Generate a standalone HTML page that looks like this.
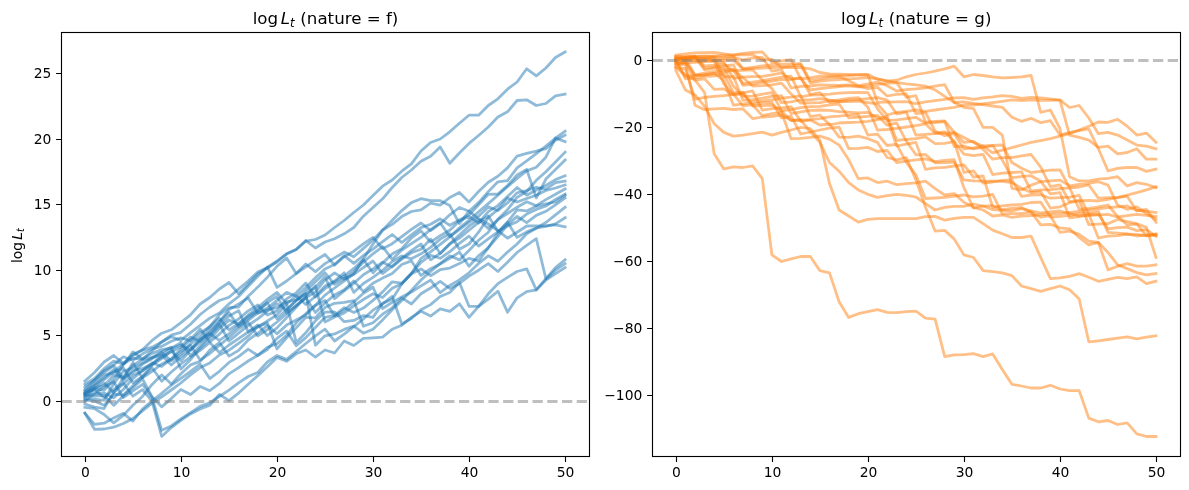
<!DOCTYPE html>
<html><head><meta charset="utf-8"><title>log L_t</title>
<style>
html,body{margin:0;padding:0;background:#fff;}
svg{display:block;}
text{font-family:"DejaVu Sans","Liberation Sans",sans-serif;fill:#000;}
.tk{font-size:13.89px;}
.tt{font-size:16.67px;}
.fr{fill:none;stroke:#000;stroke-width:1.11;}
.tick{stroke:#000;stroke-width:1.11;}
.lf path{fill:none;stroke:#1f77b4;stroke-opacity:.5;stroke-width:2.78;stroke-linejoin:round;stroke-linecap:square;}
.rt path{fill:none;stroke:#ff7f0e;stroke-opacity:.5;stroke-width:2.78;stroke-linejoin:round;stroke-linecap:square;}
.lf path.zl,.rt path.zl{stroke:#808080;stroke-opacity:.5;stroke-width:2.78;stroke-dasharray:10.28 4.44;fill:none;stroke-linecap:butt;}
</style></head><body>
<svg width="1189" height="490" viewBox="0 0 1189 490">
<rect width="1189" height="490" fill="#fff"/>
<defs>
<clipPath id="cl"><rect x="61.5" y="32.5" width="528" height="424"/></clipPath>
<clipPath id="cr"><rect x="652.5" y="32.5" width="528" height="424"/></clipPath>
</defs>
<!-- left panel -->
<g class="lf" clip-path="url(#cl)">
<path d="M84.9 393.5 L94.5 386.4 L104.1 379.7 L113.7 371.9 L123.3 364.1 L132.9 358.1 L142.5 359.4 L152.1 350.8 L161.7 342.0 L171.3 335.1 L180.9 332.3 L190.5 324.3 L200.2 314.5 L209.8 307.0 L219.4 300.5 L229.0 297.3 L238.6 289.0 L248.2 281.0 L257.8 272.0 L267.4 267.5 L277.0 261.0 L286.6 253.8 L296.2 249.5 L305.8 241.2 L315.4 239.5 L325.0 235.0 L334.6 227.5 L344.2 220.5 L353.8 212.5 L363.4 205.0 L373.0 195.5 L382.6 186.2 L392.2 180.0 L401.8 171.2 L411.4 163.8 L421.0 151.0 L430.6 142.5 L440.2 139.0 L449.8 131.8 L459.4 123.2 L469.0 115.2 L478.6 115.2 L488.3 105.5 L497.9 98.8 L507.5 89.2 L517.1 82.0 L526.7 68.8 L536.3 75.8 L545.9 68.0 L555.5 57.5 L565.1 52.0"/>
<path d="M84.9 381.1 L94.5 372.5 L104.1 362.0 L113.7 355.5 L123.3 363.4 L132.9 355.8 L142.5 349.7 L152.1 340.4 L161.7 333.2 L171.3 329.8 L180.9 322.6 L190.5 314.8 L200.2 304.0 L209.8 297.5 L219.4 289.0 L229.0 282.5 L238.6 293.8 L248.2 284.0 L257.8 274.0 L267.4 268.0 L277.0 262.0 L286.6 254.0 L296.2 249.5 L305.8 240.5 L315.4 248.0 L325.0 242.0 L334.6 238.8 L344.2 233.8 L353.8 227.5 L363.4 216.2 L373.0 207.5 L382.6 198.8 L392.2 187.5 L401.8 177.5 L411.4 170.0 L421.0 161.2 L430.6 156.2 L440.2 147.0 L449.8 163.2 L459.4 153.0 L469.0 143.4 L478.6 135.5 L488.3 127.0 L497.9 117.0 L507.5 111.8 L517.1 100.5 L526.7 99.8 L536.3 105.5 L545.9 103.5 L555.5 95.8 L565.1 94.2"/>
<path d="M84.9 397.5 L94.5 389.6 L104.1 397.5 L113.7 389.6 L123.3 383.0 L132.9 396.2 L142.5 389.6 L152.1 401.4 L161.7 436.4 L171.3 427.6 L180.9 420.4 L190.5 413.9 L200.2 408.9 L209.8 405.3 L219.4 394.4 L229.0 400.6 L238.6 393.1 L248.2 384.3 L257.8 375.6 L267.4 366.8 L277.0 357.4 L286.6 361.3 L296.2 353.8 L305.8 350.0 L315.4 357.1 L325.0 350.0 L334.6 353.0 L344.2 341.0 L353.8 345.5 L363.4 338.4 L373.0 337.8 L382.6 337.1 L392.2 329.2 L401.8 325.3 L411.4 317.4 L421.0 311.3 L430.6 316.1 L440.2 308.8 L449.8 311.3 L459.4 303.8 L469.0 317.4 L478.6 306.3 L488.3 299.1 L497.9 291.2 L507.5 312.2 L517.1 297.8 L526.7 291.7 L536.3 289.9 L545.9 280.0 L555.5 273.7 L565.1 267.6"/>
<path d="M84.9 401.4 L94.5 393.5 L104.1 387.0 L113.7 381.7 L123.3 397.5 L132.9 390.9 L142.5 384.3 L152.1 397.5 L161.7 430.3 L171.3 425.9 L180.9 418.8 L190.5 412.7 L200.2 406.4 L209.8 402.7 L219.4 396.5 L229.0 390.2 L238.6 382.8 L248.2 376.5 L257.8 372.5 L267.4 362.0 L277.0 355.5 L286.6 359.4 L296.2 351.5 L305.8 343.5 L315.4 335.9 L325.0 329.2 L334.6 341.0 L344.2 334.2 L353.8 326.6 L363.4 318.9 L373.0 310.2 L382.6 303.8 L392.2 296.4 L401.8 324.0 L411.4 318.5 L421.0 309.8 L430.6 304.6 L440.2 296.5 L449.8 292.5 L459.4 282.5 L469.0 306.3 L478.6 306.3 L488.3 293.8 L497.9 283.7 L507.5 277.4 L517.1 271.5 L526.7 268.9 L536.3 289.9 L545.9 278.7 L555.5 267.6 L565.1 259.7"/>
<path d="M84.9 413.2 L94.5 429.3 L104.1 429.0 L113.7 427.2 L123.3 423.5 L132.9 418.5 L142.5 410.8 L152.1 403.2 L161.7 396.9 L171.3 390.0 L180.9 383.0 L190.5 374.9 L200.2 367.6 L209.8 362.9 L219.4 355.0 L229.0 350.2 L238.6 343.3 L248.2 336.2 L257.8 326.6 L267.4 322.9 L277.0 348.9 L286.6 337.8 L296.2 327.9 L305.8 317.4 L315.4 317.8 L325.0 307.6 L334.6 303.3 L344.2 302.3 L353.8 300.6 L363.4 326.2 L373.0 322.7 L382.6 314.2 L392.2 307.8 L401.8 297.9 L411.4 304.0 L421.0 293.8 L430.6 288.0 L440.2 281.3 L449.8 288.5 L459.4 283.4 L469.0 276.1 L478.6 270.2 L488.3 263.6 L497.9 271.5 L507.5 262.3 L517.1 252.5 L526.7 245.3 L536.3 238.7 L545.9 278.7 L555.5 270.2 L565.1 263.6"/>
<path d="M84.9 413.2 L94.5 424.4 L104.1 423.2 L113.7 417.9 L123.3 413.3 L132.9 421.1 L142.5 409.0 L152.1 400.8 L161.7 393.3 L171.3 385.2 L180.9 378.4 L190.5 371.5 L200.2 364.2 L209.8 378.6 L219.4 371.3 L229.0 362.4 L238.6 356.6 L248.2 349.1 L257.8 355.5 L267.4 349.5 L277.0 338.4 L286.6 331.1 L296.2 345.8 L305.8 337.6 L315.4 327.5 L325.0 317.4 L334.6 315.3 L344.2 307.7 L353.8 312.5 L363.4 308.1 L373.0 300.4 L382.6 291.9 L392.2 281.8 L401.8 283.2 L411.4 273.6 L421.0 262.3 L430.6 255.2 L440.2 258.3 L449.8 251.7 L459.4 243.4 L469.0 236.1 L478.6 246.1 L488.3 238.9 L497.9 231.9 L507.5 222.2 L517.1 237.4 L526.7 231.9 L536.3 228.0 L545.9 226.5 L555.5 223.8 L565.1 217.7"/>
<path d="M84.9 396.2 L94.5 396.1 L104.1 395.5 L113.7 405.4 L123.3 395.9 L132.9 387.8 L142.5 379.0 L152.1 396.8 L161.7 406.9 L171.3 398.6 L180.9 389.6 L190.5 394.6 L200.2 386.4 L209.8 390.7 L219.4 383.4 L229.0 373.8 L238.6 367.6 L248.2 361.0 L257.8 355.3 L267.4 347.2 L277.0 343.7 L286.6 335.4 L296.2 322.8 L305.8 313.8 L315.4 305.1 L325.0 295.1 L334.6 288.0 L344.2 281.0 L353.8 273.9 L363.4 258.9 L373.0 244.0 L382.6 230.2 L392.2 220.3 L401.8 210.6 L411.4 202.6 L421.0 198.7 L430.6 200.7 L440.2 200.7 L449.8 205.6 L459.4 223.6 L469.0 211.2 L478.6 218.8 L488.3 224.0 L497.9 230.6 L507.5 238.2 L517.1 232.2 L526.7 226.0 L536.3 225.8 L545.9 225.6 L555.5 224.9 L565.1 226.9"/>
<path d="M84.9 384.3 L94.5 378.4 L104.1 368.6 L113.7 361.1 L123.3 364.0 L132.9 354.2 L142.5 350.1 L152.1 347.2 L161.7 342.1 L171.3 336.8 L180.9 340.4 L190.5 332.7 L200.2 325.3 L209.8 318.1 L219.4 312.9 L229.0 303.8 L238.6 296.5 L248.2 286.2 L257.8 276.4 L267.4 266.9 L277.0 287.3 L286.6 281.0 L296.2 273.7 L305.8 266.9 L315.4 260.5 L325.0 254.5 L334.6 265.0 L344.2 256.7 L353.8 251.2 L363.4 243.8 L373.0 237.4 L382.6 248.7 L392.2 243.7 L401.8 236.6 L411.4 229.4 L421.0 223.0 L430.6 230.6 L440.2 223.7 L449.8 214.8 L459.4 207.5 L469.0 211.2 L478.6 202.6 L488.3 191.6 L497.9 181.8 L507.5 180.7 L517.1 167.9 L526.7 160.8 L536.3 153.7 L545.9 146.0 L555.5 138.2 L565.1 131.1"/>
<path d="M84.9 387.0 L94.5 380.2 L104.1 370.6 L113.7 364.9 L123.3 356.8 L132.9 360.3 L142.5 353.8 L152.1 348.9 L161.7 346.4 L171.3 341.2 L180.9 337.8 L190.5 340.9 L200.2 332.8 L209.8 326.9 L219.4 314.9 L229.0 307.6 L238.6 307.1 L248.2 296.2 L257.8 287.1 L267.4 277.2 L277.0 266.3 L286.6 257.9 L296.2 273.4 L305.8 264.0 L315.4 271.7 L325.0 263.6 L334.6 257.9 L344.2 252.1 L353.8 256.8 L363.4 248.4 L373.0 240.0 L382.6 230.0 L392.2 224.4 L401.8 216.6 L411.4 211.5 L421.0 209.8 L430.6 203.2 L440.2 205.1 L449.8 197.5 L459.4 192.5 L469.0 202.0 L478.6 191.5 L488.3 182.3 L497.9 176.3 L507.5 167.9 L517.1 156.1 L526.7 153.4 L536.3 151.2 L545.9 148.7 L555.5 140.3 L565.1 135.1"/>
<path d="M84.9 389.6 L94.5 380.4 L104.1 372.5 L113.7 365.6 L123.3 378.3 L132.9 372.5 L142.5 364.1 L152.1 358.7 L161.7 352.3 L171.3 360.8 L180.9 354.2 L190.5 343.9 L200.2 336.6 L209.8 326.3 L219.4 318.4 L229.0 329.9 L238.6 323.6 L248.2 315.2 L257.8 307.6 L267.4 299.3 L277.0 292.5 L286.6 303.4 L296.2 342.4 L305.8 332.7 L315.4 320.8 L325.0 312.2 L334.6 312.0 L344.2 321.7 L353.8 320.4 L363.4 315.6 L373.0 317.4 L382.6 303.4 L392.2 299.3 L401.8 283.9 L411.4 273.6 L421.0 258.4 L430.6 251.9 L440.2 244.3 L449.8 236.8 L459.4 227.9 L469.0 220.3 L478.6 211.9 L488.3 203.6 L497.9 195.2 L507.5 186.8 L517.1 178.4 L526.7 170.9 L536.3 167.3 L545.9 157.2 L555.5 138.0 L565.1 141.6"/>
<path d="M84.9 390.9 L94.5 385.2 L104.1 377.8 L113.7 369.5 L123.3 380.2 L132.9 370.3 L142.5 368.6 L152.1 363.9 L161.7 357.1 L171.3 351.8 L180.9 347.0 L190.5 336.9 L200.2 341.4 L209.8 329.9 L219.4 321.9 L229.0 309.6 L238.6 304.0 L248.2 297.9 L257.8 313.3 L267.4 309.9 L277.0 307.6 L286.6 301.9 L296.2 300.0 L305.8 293.6 L315.4 345.2 L325.0 335.8 L334.6 333.9 L344.2 329.4 L353.8 326.1 L363.4 333.2 L373.0 329.2 L382.6 319.9 L392.2 309.8 L401.8 300.6 L411.4 290.5 L421.0 280.0 L430.6 271.5 L440.2 263.5 L449.8 255.8 L459.4 259.9 L469.0 250.5 L478.6 240.2 L488.3 232.2 L497.9 219.3 L507.5 209.7 L517.1 197.4 L526.7 191.5 L536.3 180.3 L545.9 171.8 L555.5 162.0 L565.1 152.1"/>
<path d="M84.9 392.2 L94.5 383.5 L104.1 375.2 L113.7 372.6 L123.3 368.0 L132.9 382.8 L142.5 376.5 L152.1 365.1 L161.7 358.7 L171.3 351.0 L180.9 360.7 L190.5 350.3 L200.2 339.4 L209.8 332.7 L219.4 322.2 L229.0 312.6 L238.6 326.6 L248.2 320.3 L257.8 312.9 L267.4 308.0 L277.0 300.4 L286.6 292.4 L296.2 296.3 L305.8 287.5 L315.4 277.7 L325.0 268.9 L334.6 264.6 L344.2 255.6 L353.8 263.4 L363.4 255.5 L373.0 249.2 L382.6 241.7 L392.2 234.5 L401.8 242.5 L411.4 234.8 L421.0 227.6 L430.6 224.2 L440.2 218.8 L449.8 225.3 L459.4 219.9 L469.0 215.1 L478.6 204.8 L488.3 194.3 L497.9 194.0 L507.5 185.5 L517.1 174.9 L526.7 169.4 L536.3 197.9 L545.9 179.1 L555.5 169.6 L565.1 160.0"/>
<path d="M84.9 392.9 L94.5 388.4 L104.1 383.0 L113.7 392.6 L123.3 384.0 L132.9 375.2 L142.5 370.9 L152.1 362.7 L161.7 366.5 L171.3 358.9 L180.9 348.9 L190.5 339.7 L200.2 329.0 L209.8 342.0 L219.4 334.1 L229.0 325.3 L238.6 319.0 L248.2 310.9 L257.8 305.0 L267.4 315.0 L277.0 310.9 L286.6 298.9 L296.2 292.8 L305.8 283.1 L315.4 297.1 L325.0 288.6 L334.6 281.9 L344.2 276.0 L353.8 268.4 L363.4 259.5 L373.0 272.8 L382.6 263.1 L392.2 254.0 L401.8 248.6 L411.4 238.0 L421.0 230.8 L430.6 242.1 L440.2 235.7 L449.8 230.3 L459.4 220.9 L469.0 216.4 L478.6 223.0 L488.3 211.6 L497.9 205.6 L507.5 196.5 L517.1 187.5 L526.7 195.2 L536.3 190.0 L545.9 185.5 L555.5 179.6 L565.1 175.7"/>
<path d="M84.9 394.2 L94.5 388.2 L104.1 385.7 L113.7 375.3 L123.3 377.1 L132.9 365.3 L142.5 359.7 L152.1 357.4 L161.7 351.9 L171.3 347.1 L180.9 369.0 L190.5 359.7 L200.2 348.2 L209.8 338.8 L219.4 328.6 L229.0 320.1 L238.6 324.3 L248.2 316.2 L257.8 310.6 L267.4 302.5 L277.0 296.4 L286.6 313.0 L296.2 305.6 L305.8 297.8 L315.4 292.0 L325.0 280.0 L334.6 272.8 L344.2 279.1 L353.8 271.8 L363.4 262.1 L373.0 253.8 L382.6 246.6 L392.2 259.4 L401.8 250.1 L411.4 243.6 L421.0 237.4 L430.6 229.6 L440.2 222.9 L449.8 236.6 L459.4 229.7 L469.0 222.3 L478.6 216.2 L488.3 206.9 L497.9 210.5 L507.5 203.0 L517.1 192.8 L526.7 190.5 L536.3 187.3 L545.9 189.1 L555.5 182.7 L565.1 181.0"/>
<path d="M84.9 394.8 L94.5 389.0 L104.1 390.2 L113.7 379.5 L123.3 365.0 L132.9 351.9 L142.5 358.8 L152.1 353.4 L161.7 349.6 L171.3 348.1 L180.9 342.8 L190.5 355.7 L200.2 346.0 L209.8 335.9 L219.4 325.9 L229.0 316.1 L238.6 310.6 L248.2 331.8 L257.8 327.0 L267.4 321.0 L277.0 314.8 L286.6 304.0 L296.2 295.9 L305.8 304.5 L315.4 296.2 L325.0 285.9 L334.6 281.1 L344.2 272.8 L353.8 292.4 L363.4 283.5 L373.0 277.4 L382.6 270.4 L392.2 261.6 L401.8 256.0 L411.4 258.8 L421.0 253.8 L430.6 247.4 L440.2 239.1 L449.8 233.6 L459.4 249.2 L469.0 244.0 L478.6 232.2 L488.3 217.4 L497.9 209.6 L507.5 198.0 L517.1 202.0 L526.7 198.5 L536.3 195.3 L545.9 190.5 L555.5 188.0 L565.1 184.9"/>
<path d="M84.9 395.5 L94.5 394.0 L104.1 392.9 L113.7 397.9 L123.3 389.5 L132.9 378.6 L142.5 370.5 L152.1 364.6 L161.7 355.1 L171.3 365.0 L180.9 356.8 L190.5 349.0 L200.2 339.4 L209.8 333.6 L219.4 340.4 L229.0 333.8 L238.6 325.8 L248.2 318.5 L257.8 311.0 L267.4 302.9 L277.0 318.7 L286.6 309.7 L296.2 300.6 L305.8 290.9 L315.4 281.8 L325.0 272.8 L334.6 284.4 L344.2 278.6 L353.8 274.5 L363.4 267.5 L373.0 261.0 L382.6 273.6 L392.2 266.1 L401.8 258.1 L411.4 250.6 L421.0 244.0 L430.6 259.8 L440.2 253.4 L449.8 243.8 L459.4 235.0 L469.0 226.2 L478.6 219.4 L488.3 228.4 L497.9 219.7 L507.5 213.5 L517.1 207.2 L526.7 201.7 L536.3 205.7 L545.9 199.6 L555.5 194.2 L565.1 188.9"/>
<path d="M84.9 398.8 L94.5 399.2 L104.1 400.4 L113.7 383.8 L123.3 371.2 L132.9 367.8 L142.5 363.0 L152.1 357.7 L161.7 355.2 L171.3 348.6 L180.9 345.0 L190.5 350.0 L200.2 342.1 L209.8 334.7 L219.4 324.3 L229.0 341.0 L238.6 333.2 L248.2 325.4 L257.8 318.8 L267.4 311.1 L277.0 303.7 L286.6 310.1 L296.2 300.6 L305.8 294.0 L315.4 287.5 L325.0 276.8 L334.6 298.6 L344.2 290.8 L353.8 283.3 L363.4 274.8 L373.0 268.9 L382.6 262.2 L392.2 266.9 L401.8 259.0 L411.4 252.8 L421.0 249.2 L430.6 239.1 L440.2 253.6 L449.8 244.1 L459.4 238.1 L469.0 230.2 L478.6 222.5 L488.3 216.0 L497.9 231.3 L507.5 226.0 L517.1 221.7 L526.7 214.1 L536.3 209.4 L545.9 206.0 L555.5 199.4 L565.1 194.1"/>
<path d="M84.9 400.1 L94.5 401.1 L104.1 405.3 L113.7 394.1 L123.3 395.1 L132.9 385.7 L142.5 377.0 L152.1 367.8 L161.7 381.2 L171.3 372.0 L180.9 364.0 L190.5 356.9 L200.2 350.4 L209.8 342.5 L219.4 352.5 L229.0 345.0 L238.6 338.7 L248.2 332.0 L257.8 324.9 L267.4 335.5 L277.0 327.9 L286.6 317.6 L296.2 307.3 L305.8 296.4 L315.4 285.9 L325.0 322.0 L334.6 317.0 L344.2 313.0 L353.8 305.8 L363.4 299.5 L373.0 293.8 L382.6 297.5 L392.2 288.3 L401.8 283.7 L411.4 273.7 L421.0 268.9 L430.6 275.7 L440.2 269.7 L449.8 268.1 L459.4 263.6 L469.0 258.4 L478.6 260.8 L488.3 247.8 L497.9 233.2 L507.5 222.1 L517.1 209.8 L526.7 210.9 L536.3 206.2 L545.9 203.9 L555.5 202.0 L565.1 195.4"/>
<path d="M84.9 404.0 L94.5 407.0 L104.1 408.6 L113.7 392.6 L123.3 378.3 L132.9 362.8 L142.5 377.9 L152.1 371.4 L161.7 364.0 L171.3 359.3 L180.9 351.5 L190.5 345.2 L200.2 360.1 L209.8 353.5 L219.4 345.4 L229.0 337.5 L238.6 328.8 L248.2 322.5 L257.8 335.9 L267.4 329.6 L277.0 322.0 L286.6 313.6 L296.2 305.5 L305.8 297.8 L315.4 312.5 L325.0 303.0 L334.6 294.9 L344.2 289.7 L353.8 280.9 L363.4 291.6 L373.0 283.3 L382.6 278.1 L392.2 273.4 L401.8 264.5 L411.4 260.9 L421.0 275.4 L430.6 268.7 L440.2 264.0 L449.8 258.4 L459.4 252.1 L469.0 266.3 L478.6 255.8 L488.3 247.6 L497.9 236.6 L507.5 224.9 L517.1 216.4 L526.7 222.7 L536.3 215.4 L545.9 211.3 L555.5 204.8 L565.1 198.0"/>
<path d="M84.9 407.3 L94.5 408.6 L104.1 414.5 L113.7 422.9 L123.3 415.4 L132.9 405.3 L142.5 396.4 L152.1 384.4 L161.7 375.0 L171.3 384.1 L180.9 373.8 L190.5 364.9 L200.2 361.4 L209.8 350.2 L219.4 342.5 L229.0 356.1 L238.6 350.4 L248.2 340.0 L257.8 333.3 L267.4 325.4 L277.0 333.8 L286.6 325.1 L296.2 320.0 L305.8 314.9 L315.4 305.6 L325.0 300.4 L334.6 315.9 L344.2 310.0 L353.8 302.0 L363.4 293.2 L373.0 287.3 L382.6 308.5 L392.2 302.4 L401.8 297.0 L411.4 292.0 L421.0 285.9 L430.6 280.1 L440.2 292.6 L449.8 285.4 L459.4 279.9 L469.0 272.8 L478.6 263.4 L488.3 255.8 L497.9 261.3 L507.5 252.1 L517.1 244.0 L526.7 233.7 L536.3 228.2 L545.9 222.5 L555.5 214.9 L565.1 207.2"/>
<path class="zl" d="M61.5 401.5 H589.5"/>
</g>
<g class="rt" clip-path="url(#cr)">
<path d="M675.8 67.5 L685.4 74.8 L695.0 79.9 L704.6 92.6 L714.2 153.8 L723.8 168.9 L733.4 166.9 L743.0 167.5 L752.6 165.8 L762.3 178.6 L771.9 254.9 L781.5 261.5 L791.1 258.9 L800.7 256.5 L810.3 256.5 L819.9 270.6 L829.5 272.9 L839.1 301.7 L848.7 317.4 L858.3 313.7 L867.9 311.7 L877.5 309.7 L887.1 312.4 L896.7 312.7 L906.3 311.7 L915.9 311.1 L925.5 318.1 L935.1 319.1 L944.7 356.6 L954.3 354.9 L963.9 354.6 L973.5 353.6 L983.1 356.6 L992.7 353.9 L1002.3 369.6 L1011.9 384.3 L1021.5 386.0 L1031.1 388.0 L1040.7 388.0 L1050.4 385.3 L1060.0 389.0 L1069.6 390.7 L1079.2 390.7 L1088.8 418.1 L1098.4 421.8 L1108.0 420.5 L1117.6 424.5 L1127.2 422.8 L1136.8 433.9 L1146.4 436.5 L1156.0 436.5"/>
<path d="M675.8 70.5 L685.4 89.9 L695.0 94.9 L704.6 106.3 L714.2 123.7 L723.8 132.4 L733.4 136.1 L743.0 135.1 L752.6 133.7 L762.3 132.1 L771.9 135.1 L781.5 132.4 L791.1 130.0 L800.7 127.4 L810.3 128.7 L819.9 140.1 L829.5 183.6 L839.1 210.0 L848.7 216.0 L858.3 222.1 L867.9 219.4 L877.5 218.7 L887.1 218.7 L896.7 218.7 L906.3 218.7 L915.9 218.7 L925.5 216.7 L935.1 216.4 L944.7 220.1 L954.3 218.4 L963.9 217.4 L973.5 217.4 L983.1 223.7 L992.7 230.1 L1002.3 233.8 L1011.9 237.5 L1021.5 237.5 L1031.1 236.1 L1040.7 257.5 L1050.4 278.6 L1060.0 277.9 L1069.6 276.3 L1079.2 273.6 L1088.8 277.3 L1098.4 281.3 L1108.0 279.3 L1117.6 277.3 L1127.2 278.6 L1136.8 276.9 L1146.4 283.6 L1156.0 281.3"/>
<path d="M675.8 55.1 L685.4 53.9 L695.0 52.8 L704.6 52.6 L714.2 52.4 L723.8 53.8 L733.4 55.1 L743.0 54.9 L752.6 54.8 L762.3 60.0 L771.9 59.4 L781.5 67.5 L791.1 67.5 L800.7 67.5 L810.3 68.8 L819.9 72.5 L829.5 73.8 L839.1 74.2 L848.7 74.5 L858.3 74.8 L867.9 74.5 L877.5 78.9 L887.1 81.2 L896.7 80.2 L906.3 76.8 L915.9 74.5 L925.5 73.0 L935.1 71.2 L944.7 68.8 L954.3 66.2 L963.9 76.8 L973.5 74.5 L983.1 75.5 L992.7 76.8 L1002.3 77.8 L1011.9 77.5 L1021.5 76.8 L1031.1 75.5 L1040.7 112.3 L1050.4 110.0 L1060.0 128.7 L1069.6 176.7 L1079.2 180.9 L1088.8 180.9 L1098.4 179.2 L1108.0 178.4 L1117.6 176.7 L1127.2 185.9 L1136.8 182.6 L1146.4 184.3 L1156.0 187.6"/>
<path d="M675.8 67.5 L685.4 68.7 L695.0 99.1 L704.6 97.3 L714.2 96.4 L723.8 95.6 L733.4 94.4 L743.0 92.8 L752.6 90.9 L762.3 110.2 L771.9 108.6 L781.5 108.0 L791.1 106.8 L800.7 121.3 L810.3 120.0 L819.9 125.0 L829.5 124.0 L839.1 137.1 L848.7 137.4 L858.3 136.1 L867.9 138.7 L877.5 142.4 L887.1 157.5 L896.7 159.8 L906.3 157.5 L915.9 179.9 L925.5 207.3 L935.1 231.1 L944.7 230.4 L954.3 239.1 L963.9 254.9 L973.5 257.5 L983.1 270.6 L992.7 271.6 L1002.3 272.9 L1011.9 275.6 L1021.5 286.0 L1031.1 288.6 L1040.7 291.3 L1050.4 288.6 L1060.0 286.0 L1069.6 289.7 L1079.2 299.0 L1088.8 341.8 L1098.4 340.8 L1108.0 339.5 L1117.6 338.2 L1127.2 336.8 L1136.8 338.8 L1146.4 337.2 L1156.0 335.8"/>
<path d="M675.8 58.4 L685.4 57.9 L695.0 58.1 L704.6 59.0 L714.2 60.1 L723.8 60.5 L733.4 59.9 L743.0 69.2 L752.6 68.6 L762.3 68.2 L771.9 67.5 L781.5 67.1 L791.1 66.1 L800.7 64.7 L810.3 83.2 L819.9 81.2 L829.5 80.0 L839.1 79.5 L848.7 78.8 L858.3 78.4 L867.9 77.5 L877.5 79.2 L887.1 80.9 L896.7 82.5 L906.3 83.9 L915.9 84.9 L925.5 86.2 L935.1 89.9 L944.7 96.3 L954.3 102.6 L963.9 107.3 L973.5 108.6 L983.1 127.4 L992.7 127.4 L1002.3 135.1 L1011.9 188.3 L1021.5 189.9 L1031.1 185.1 L1040.7 181.7 L1050.4 180.9 L1060.0 180.1 L1069.6 185.9 L1079.2 184.3 L1088.8 183.4 L1098.4 181.7 L1108.0 185.1 L1117.6 205.2 L1127.2 209.3 L1136.8 206.8 L1146.4 213.5 L1156.0 219.4"/>
<path d="M675.8 57.1 L685.4 56.3 L695.0 56.6 L704.6 56.7 L714.2 56.0 L723.8 55.4 L733.4 54.8 L743.0 53.4 L752.6 52.5 L762.3 51.9 L771.9 62.5 L781.5 60.8 L791.1 59.7 L800.7 78.9 L810.3 77.9 L819.9 76.2 L829.5 75.9 L839.1 76.0 L848.7 75.5 L858.3 74.6 L867.9 74.8 L877.5 102.3 L887.1 102.1 L896.7 101.8 L906.3 101.6 L915.9 103.6 L925.5 101.9 L935.1 100.6 L944.7 99.3 L954.3 97.9 L963.9 97.6 L973.5 99.3 L983.1 97.9 L992.7 96.9 L1002.3 95.6 L1011.9 96.3 L1021.5 98.3 L1031.1 97.3 L1040.7 97.9 L1050.4 98.9 L1060.0 100.3 L1069.6 135.1 L1079.2 137.4 L1088.8 140.1 L1098.4 147.4 L1108.0 146.1 L1117.6 153.8 L1127.2 152.5 L1136.8 148.8 L1146.4 159.2 L1156.0 159.2"/>
<path d="M675.8 59.1 L685.4 57.3 L695.0 55.9 L704.6 68.4 L714.2 67.2 L723.8 65.8 L733.4 64.8 L743.0 85.4 L752.6 84.3 L762.3 82.5 L771.9 81.2 L781.5 79.7 L791.1 79.4 L800.7 77.6 L810.3 94.5 L819.9 92.6 L829.5 102.4 L839.1 101.5 L848.7 100.1 L858.3 99.7 L867.9 98.6 L877.5 97.6 L887.1 100.1 L896.7 114.0 L906.3 112.2 L915.9 135.1 L925.5 134.4 L935.1 133.7 L944.7 133.1 L954.3 132.4 L963.9 137.4 L973.5 142.4 L983.1 146.1 L992.7 152.8 L1002.3 150.2 L1011.9 147.6 L1021.5 145.0 L1031.1 142.4 L1040.7 140.6 L1050.4 138.7 L1060.0 136.2 L1069.6 133.7 L1079.2 130.0 L1088.8 126.2 L1098.4 122.0 L1108.0 122.4 L1117.6 119.3 L1127.2 126.2 L1136.8 135.1 L1146.4 133.1 L1156.0 142.4"/>
<path d="M675.8 56.4 L685.4 57.3 L695.0 56.7 L704.6 55.9 L714.2 56.7 L723.8 57.1 L733.4 56.3 L743.0 68.6 L752.6 67.4 L762.3 65.9 L771.9 64.8 L781.5 64.3 L791.1 63.8 L800.7 63.7 L810.3 80.8 L819.9 78.9 L829.5 77.2 L839.1 76.6 L848.7 80.8 L858.3 85.5 L867.9 83.9 L877.5 82.0 L887.1 85.8 L896.7 91.0 L906.3 89.7 L915.9 88.9 L925.5 87.8 L935.1 86.1 L944.7 84.6 L954.3 102.5 L963.9 101.9 L973.5 103.3 L983.1 104.6 L992.7 106.0 L1002.3 107.3 L1011.9 117.3 L1021.5 121.3 L1031.1 118.3 L1040.7 122.7 L1050.4 120.7 L1060.0 135.1 L1069.6 132.4 L1079.2 130.7 L1088.8 129.0 L1098.4 148.8 L1108.0 170.9 L1117.6 168.4 L1127.2 167.5 L1136.8 167.5 L1146.4 171.4 L1156.0 169.2"/>
<path d="M675.8 64.1 L685.4 62.8 L695.0 80.0 L704.6 78.8 L714.2 89.4 L723.8 88.9 L733.4 94.8 L743.0 93.9 L752.6 105.0 L762.3 115.6 L771.9 113.7 L781.5 112.3 L791.1 138.7 L800.7 138.3 L810.3 137.4 L819.9 136.1 L829.5 139.1 L839.1 145.1 L848.7 159.8 L858.3 178.6 L867.9 177.9 L877.5 182.6 L887.1 181.2 L896.7 184.6 L906.3 183.6 L915.9 182.9 L925.5 181.2 L935.1 188.6 L944.7 195.0 L954.3 193.6 L963.9 202.3 L973.5 207.3 L983.1 210.0 L992.7 216.0 L1002.3 215.0 L1011.9 217.4 L1021.5 216.0 L1031.1 215.5 L1040.7 214.9 L1050.4 214.3 L1060.0 213.7 L1069.6 212.5 L1079.2 211.3 L1088.8 210.1 L1098.4 208.9 L1108.0 207.7 L1117.6 206.8 L1127.2 206.0 L1136.8 210.4 L1146.4 211.4 L1156.0 212.4"/>
<path d="M675.8 65.5 L685.4 64.1 L695.0 105.2 L704.6 109.7 L714.2 108.9 L723.8 108.3 L733.4 109.5 L743.0 108.9 L752.6 118.6 L762.3 117.0 L771.9 116.3 L781.5 115.0 L791.1 120.3 L800.7 120.0 L810.3 131.8 L819.9 142.4 L829.5 162.5 L839.1 171.2 L848.7 182.6 L858.3 189.9 L867.9 194.3 L877.5 197.3 L887.1 195.6 L896.7 194.3 L906.3 195.3 L915.9 197.0 L925.5 203.7 L935.1 210.0 L944.7 207.3 L954.3 206.3 L963.9 206.3 L973.5 204.0 L983.1 206.0 L992.7 209.7 L1002.3 210.4 L1011.9 211.0 L1021.5 208.7 L1031.1 210.9 L1040.7 213.0 L1050.4 212.0 L1060.0 211.0 L1069.6 213.5 L1079.2 216.0 L1088.8 215.5 L1098.4 214.9 L1108.0 214.4 L1117.6 217.0 L1127.2 215.7 L1136.8 214.4 L1146.4 215.4 L1156.0 216.4"/>
<path d="M675.8 60.1 L685.4 59.0 L695.0 57.3 L704.6 70.0 L714.2 68.2 L723.8 67.8 L733.4 86.1 L743.0 96.4 L752.6 96.1 L762.3 94.2 L771.9 92.6 L781.5 110.8 L791.1 109.7 L800.7 107.7 L810.3 106.6 L819.9 106.3 L829.5 104.8 L839.1 104.0 L848.7 117.8 L858.3 117.2 L867.9 116.3 L877.5 115.4 L887.1 125.2 L896.7 123.2 L906.3 141.1 L915.9 154.8 L925.5 154.5 L935.1 162.8 L944.7 162.6 L954.3 162.2 L963.9 179.9 L973.5 180.9 L983.1 181.2 L992.7 181.2 L1002.3 181.4 L1011.9 182.6 L1021.5 188.2 L1031.1 192.5 L1040.7 191.7 L1050.4 208.1 L1060.0 206.8 L1069.6 202.7 L1079.2 201.0 L1088.8 200.3 L1098.4 201.0 L1108.0 199.3 L1117.6 197.6 L1127.2 195.1 L1136.8 192.6 L1146.4 189.8 L1156.0 186.8"/>
<path d="M675.8 60.5 L685.4 76.7 L695.0 75.4 L704.6 75.1 L714.2 73.5 L723.8 72.2 L733.4 70.5 L743.0 70.3 L752.6 69.9 L762.3 80.1 L771.9 88.6 L781.5 102.6 L791.1 101.9 L800.7 100.0 L810.3 99.8 L819.9 98.6 L829.5 100.1 L839.1 101.7 L848.7 101.7 L858.3 101.1 L867.9 102.6 L877.5 103.9 L887.1 115.0 L896.7 112.3 L906.3 111.3 L915.9 110.0 L925.5 111.3 L935.1 110.0 L944.7 108.6 L954.3 107.3 L963.9 105.0 L973.5 105.0 L983.1 103.9 L992.7 102.6 L1002.3 101.3 L1011.9 99.9 L1021.5 100.6 L1031.1 99.9 L1040.7 100.3 L1050.4 100.3 L1060.0 99.9 L1069.6 107.5 L1079.2 105.5 L1088.8 118.0 L1098.4 133.7 L1108.0 132.4 L1117.6 135.1 L1127.2 140.1 L1136.8 145.1 L1146.4 146.1 L1156.0 148.8"/>
<path d="M675.8 58.8 L685.4 58.9 L695.0 61.0 L704.6 60.9 L714.2 61.1 L723.8 62.1 L733.4 78.3 L743.0 77.2 L752.6 76.7 L762.3 76.3 L771.9 74.8 L781.5 72.9 L791.1 79.2 L800.7 78.3 L810.3 90.0 L819.9 88.6 L829.5 87.6 L839.1 86.5 L848.7 85.9 L858.3 86.9 L867.9 86.2 L877.5 84.4 L887.1 83.3 L896.7 82.5 L906.3 97.3 L915.9 95.6 L925.5 122.1 L935.1 121.3 L944.7 120.8 L954.3 132.5 L963.9 142.4 L973.5 141.3 L983.1 149.4 L992.7 159.2 L1002.3 157.7 L1011.9 157.5 L1021.5 155.9 L1031.1 154.5 L1040.7 167.1 L1050.4 186.7 L1060.0 184.9 L1069.6 201.7 L1079.2 200.4 L1088.8 224.7 L1098.4 224.1 L1108.0 223.7 L1117.6 219.4 L1127.2 221.7 L1136.8 223.7 L1146.4 227.4 L1156.0 257.5"/>
<path d="M675.8 60.8 L685.4 78.9 L695.0 77.9 L704.6 76.4 L714.2 76.0 L723.8 74.5 L733.4 92.6 L743.0 92.1 L752.6 106.0 L762.3 105.6 L771.9 105.0 L781.5 111.0 L791.1 120.5 L800.7 120.0 L810.3 119.6 L819.9 118.7 L829.5 116.9 L839.1 116.2 L848.7 115.1 L858.3 114.7 L867.9 135.1 L877.5 134.1 L887.1 145.5 L896.7 144.3 L906.3 162.3 L915.9 174.9 L925.5 198.5 L935.1 198.0 L944.7 197.3 L954.3 196.0 L963.9 195.0 L973.5 196.9 L983.1 196.2 L992.7 194.4 L1002.3 213.9 L1011.9 213.7 L1021.5 213.5 L1031.1 211.8 L1040.7 224.8 L1050.4 224.4 L1060.0 227.8 L1069.6 228.8 L1079.2 237.5 L1088.8 244.8 L1098.4 242.5 L1108.0 269.9 L1117.6 266.2 L1127.2 263.6 L1136.8 266.2 L1146.4 266.2 L1156.0 264.9"/>
<path d="M675.8 63.1 L685.4 62.9 L695.0 62.4 L704.6 61.4 L714.2 60.9 L723.8 83.9 L733.4 94.2 L743.0 105.8 L752.6 104.7 L762.3 102.8 L771.9 102.3 L781.5 117.9 L791.1 116.2 L800.7 134.0 L810.3 132.0 L819.9 130.0 L829.5 128.1 L839.1 127.1 L848.7 148.6 L858.3 148.3 L867.9 147.4 L877.5 151.5 L887.1 150.4 L896.7 162.6 L906.3 161.2 L915.9 159.8 L925.5 158.9 L935.1 161.6 L944.7 160.3 L954.3 159.7 L963.9 187.6 L973.5 208.0 L983.1 206.2 L992.7 205.6 L1002.3 209.7 L1011.9 208.3 L1021.5 207.5 L1031.1 212.6 L1040.7 217.1 L1050.4 215.7 L1060.0 232.4 L1069.6 231.1 L1079.2 234.4 L1088.8 241.1 L1098.4 242.5 L1108.0 252.5 L1117.6 264.9 L1127.2 268.6 L1136.8 272.6 L1146.4 274.9 L1156.0 273.6"/>
<path d="M675.8 59.4 L685.4 58.7 L695.0 56.9 L704.6 65.9 L714.2 65.2 L723.8 63.8 L733.4 70.8 L743.0 83.6 L752.6 82.0 L762.3 80.6 L771.9 78.9 L781.5 77.1 L791.1 76.2 L800.7 96.8 L810.3 95.1 L819.9 94.9 L829.5 94.2 L839.1 93.1 L848.7 92.7 L858.3 92.4 L867.9 92.6 L877.5 108.9 L887.1 120.6 L896.7 119.9 L906.3 118.7 L915.9 117.3 L925.5 123.2 L935.1 122.7 L944.7 121.6 L954.3 146.6 L963.9 146.1 L973.5 149.0 L983.1 147.5 L992.7 145.6 L1002.3 160.1 L1011.9 177.6 L1021.5 176.7 L1031.1 175.7 L1040.7 181.3 L1050.4 193.9 L1060.0 192.6 L1069.6 217.9 L1079.2 216.5 L1088.8 214.5 L1098.4 214.3 L1108.0 228.8 L1117.6 227.7 L1127.2 227.1 L1136.8 230.6 L1146.4 229.7 L1156.0 236.4"/>
<path d="M675.8 61.5 L685.4 60.3 L695.0 59.9 L704.6 58.1 L714.2 57.2 L723.8 77.2 L733.4 76.3 L743.0 100.4 L752.6 99.6 L762.3 98.2 L771.9 96.3 L781.5 95.7 L791.1 113.6 L800.7 111.8 L810.3 110.3 L819.9 110.0 L829.5 110.4 L839.1 111.6 L848.7 112.1 L858.3 112.9 L867.9 112.3 L877.5 118.3 L887.1 116.3 L896.7 140.3 L906.3 139.5 L915.9 138.7 L925.5 136.8 L935.1 143.6 L944.7 143.3 L954.3 141.6 L963.9 172.5 L973.5 170.8 L983.1 183.2 L992.7 182.0 L1002.3 180.4 L1011.9 179.9 L1021.5 196.3 L1031.1 195.0 L1040.7 194.7 L1050.4 198.2 L1060.0 197.6 L1069.6 197.2 L1079.2 195.3 L1088.8 214.2 L1098.4 238.0 L1108.0 236.1 L1117.6 235.6 L1127.2 234.1 L1136.8 234.4 L1146.4 235.9 L1156.0 235.4"/>
<path d="M675.8 62.1 L685.4 61.9 L695.0 75.4 L704.6 74.7 L714.2 73.4 L723.8 80.5 L733.4 105.1 L743.0 104.1 L752.6 102.1 L762.3 100.8 L771.9 99.9 L781.5 98.1 L791.1 97.2 L800.7 95.9 L810.3 116.7 L819.9 115.0 L829.5 124.8 L839.1 123.0 L848.7 122.5 L858.3 122.1 L867.9 121.3 L877.5 119.6 L887.1 118.4 L896.7 146.0 L906.3 144.2 L915.9 142.4 L925.5 169.3 L935.1 167.8 L944.7 167.3 L954.3 166.0 L963.9 164.8 L973.5 177.2 L983.1 175.8 L992.7 207.4 L1002.3 205.9 L1011.9 205.0 L1021.5 204.3 L1031.1 202.5 L1040.7 202.2 L1050.4 217.1 L1060.0 216.4 L1069.6 215.4 L1079.2 213.7 L1088.8 213.2 L1098.4 211.5 L1108.0 232.4 L1117.6 233.2 L1127.2 234.0 L1136.8 236.0 L1146.4 234.9 L1156.0 234.4"/>
<path d="M675.8 59.8 L685.4 58.9 L695.0 74.9 L704.6 73.0 L714.2 71.4 L723.8 69.8 L733.4 69.5 L743.0 77.8 L752.6 86.0 L762.3 85.7 L771.9 84.9 L781.5 83.2 L791.1 94.0 L800.7 103.2 L810.3 102.9 L819.9 102.6 L829.5 101.0 L839.1 99.8 L848.7 98.3 L858.3 97.6 L867.9 107.3 L877.5 130.1 L887.1 129.5 L896.7 128.4 L906.3 127.0 L915.9 125.7 L925.5 123.9 L935.1 133.0 L944.7 132.0 L954.3 141.6 L963.9 154.1 L973.5 155.6 L983.1 154.3 L992.7 174.6 L1002.3 173.2 L1011.9 172.5 L1021.5 171.8 L1031.1 191.2 L1040.7 189.9 L1050.4 189.6 L1060.0 188.6 L1069.6 187.8 L1079.2 209.3 L1088.8 208.3 L1098.4 206.9 L1108.0 205.0 L1117.6 216.5 L1127.2 224.8 L1136.8 224.1 L1146.4 235.7 L1156.0 233.8"/>
<path d="M675.8 57.8 L685.4 58.1 L695.0 57.4 L704.6 58.9 L714.2 58.7 L723.8 58.8 L733.4 57.6 L743.0 59.9 L752.6 58.0 L762.3 57.5 L771.9 71.2 L781.5 69.6 L791.1 88.0 L800.7 86.4 L810.3 86.0 L819.9 84.9 L829.5 85.1 L839.1 85.5 L848.7 84.8 L858.3 86.2 L867.9 88.6 L877.5 87.4 L887.1 96.0 L896.7 94.4 L906.3 93.9 L915.9 113.7 L925.5 112.5 L935.1 131.1 L944.7 135.7 L954.3 133.7 L963.9 148.8 L973.5 147.9 L983.1 146.0 L992.7 145.5 L1002.3 145.0 L1011.9 162.5 L1021.5 168.3 L1031.1 172.5 L1040.7 171.4 L1050.4 170.1 L1060.0 169.9 L1069.6 188.0 L1079.2 187.0 L1088.8 185.0 L1098.4 198.1 L1108.0 197.6 L1117.6 197.3 L1127.2 196.3 L1136.8 210.9 L1146.4 209.3 L1156.0 222.4"/>
<path class="zl" d="M652.5 60.5 H1180.5"/>
</g>
<rect class="fr" x="61.5" y="32.5" width="528" height="424"/>
<rect class="fr" x="652.5" y="32.5" width="528" height="424"/>
<!-- x ticks -->
<g class="tick">
<path d="M85.5 457v4.9M181.5 457v4.9M277.5 457v4.9M373.5 457v4.9M469.5 457v4.9M565.5 457v4.9"/>
<path d="M676.5 457v4.9M772.5 457v4.9M868.5 457v4.9M964.5 457v4.9M1060.5 457v4.9M1156.5 457v4.9"/>
<path d="M61 401.5h-4.9M61 335.5h-4.9M61 270.5h-4.9M61 204.5h-4.9M61 139.5h-4.9M61 73.5h-4.9"/>
<path d="M652 60.5h-4.9M652 127.5h-4.9M652 194.5h-4.9M652 261.5h-4.9M652 328.5h-4.9M652 395.5h-4.9"/>
</g>
<g class="tk" text-anchor="middle">
<text x="85.5" y="476.9">0</text><text x="181.5" y="476.9">10</text><text x="277.5" y="476.9">20</text><text x="373.5" y="476.9">30</text><text x="469.5" y="476.9">40</text><text x="565.5" y="476.9">50</text>
<text x="676.5" y="476.9">0</text><text x="772.5" y="476.9">10</text><text x="868.5" y="476.9">20</text><text x="964.5" y="476.9">30</text><text x="1060.5" y="476.9">40</text><text x="1156.5" y="476.9">50</text>
</g>
<g class="tk" text-anchor="end">
<text x="51.3" y="405.9">0</text><text x="51.3" y="339.9">5</text><text x="51.3" y="274.9">10</text><text x="51.3" y="208.9">15</text><text x="51.3" y="143.9">20</text><text x="51.3" y="77.9">25</text>
<text x="642.3" y="64.9">0</text><text x="642.3" y="131.9">−20</text><text x="642.3" y="198.9">−40</text><text x="642.3" y="265.9">−60</text><text x="642.3" y="332.9">−80</text><text x="642.3" y="399.9">−100</text>
</g>
<text class="tt" x="252.7" y="24">log<tspan dx="2.6" font-style="italic">L</tspan><tspan font-size="11.67px" dy="2.6" font-style="italic">t</tspan><tspan dy="-2.6" dx="0.5"> (nature = f)</tspan></text>
<text class="tt" x="841.1" y="24">log<tspan dx="2.6" font-style="italic">L</tspan><tspan font-size="11.67px" dy="2.6" font-style="italic">t</tspan><tspan dy="-2.6" dx="0.5"> (nature = g)</tspan></text>
<text class="tk" transform="translate(21.7 263.1) rotate(-90)">log<tspan dx="2.3" font-style="italic">L</tspan><tspan font-size="9.72px" dy="2.2" font-style="italic">t</tspan></text>
</svg>
</body></html>
